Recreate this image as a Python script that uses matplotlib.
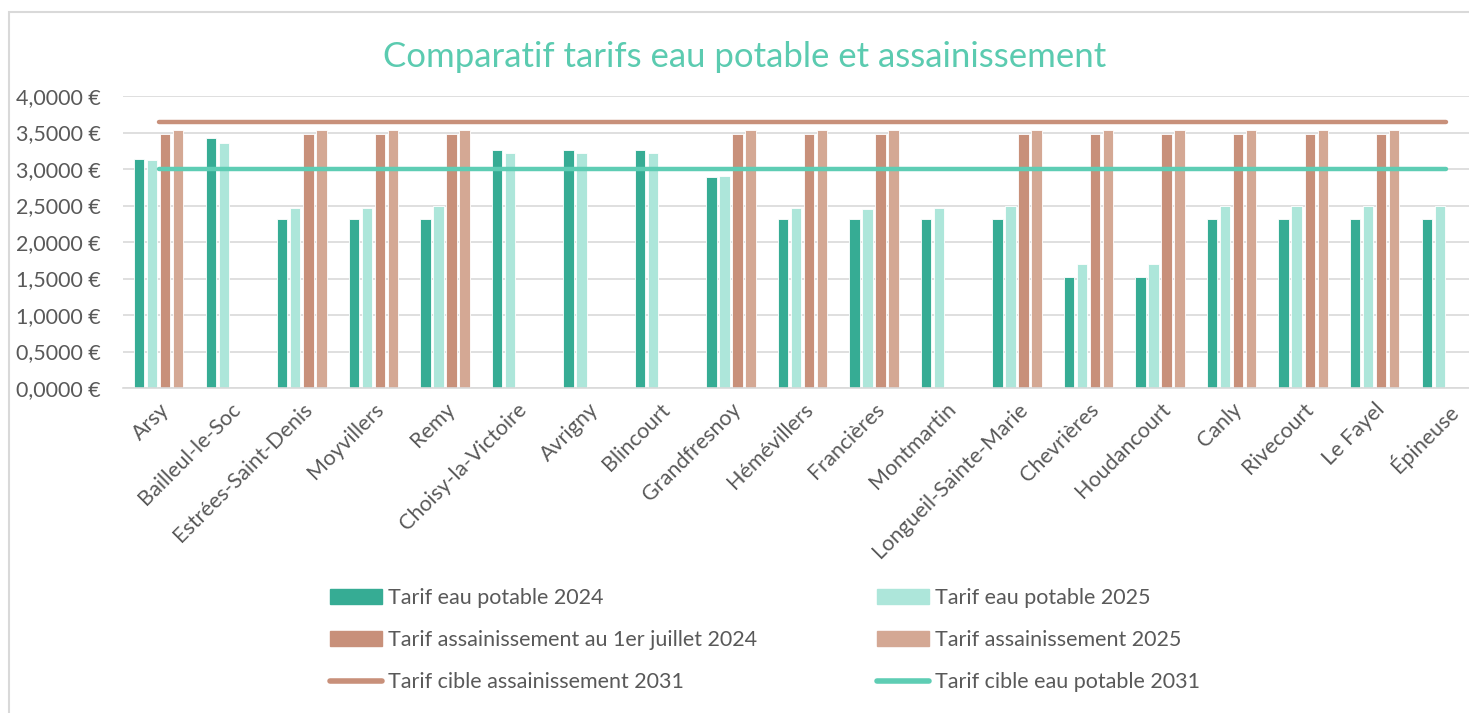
import matplotlib.pyplot as plt
import numpy as np
from matplotlib.patches import Rectangle, Patch
from matplotlib.lines import Line2D

# Data
communes = ["Arsy", "Bailleul-le-Soc", "Estrées-Saint-Denis", "Moyvillers", "Remy",
            "Choisy-la-Victoire", "Avrigny", "Blincourt", "Grandfresnoy", "Hémévillers",
            "Francières", "Montmartin", "Longueil-Sainte-Marie", "Chevrières",
            "Houdancourt", "Canly", "Rivecourt", "Le Fayel", "Épineuse"]
eau_2024 = [3.14, 3.43, 2.31, 2.31, 2.31, 3.26, 3.26, 3.26, 2.885, 2.31,
            2.31, 2.31, 2.31, 1.525, 1.525, 2.31, 2.31, 2.31, 2.31]
eau_2025 = [3.12, 3.35, 2.47, 2.47, 2.50, 3.22, 3.22, 3.22, 2.90, 2.47,
            2.45, 2.47, 2.50, 1.70, 1.70, 2.50, 2.50, 2.50, 2.50]
nan = np.nan
assain_2024 = [3.48, nan, 3.48, 3.48, 3.48, nan, nan, nan, 3.48, 3.48,
               3.48, nan, 3.48, 3.48, 3.48, 3.48, 3.48, 3.48, nan]
assain_2025 = [3.53, nan, 3.53, 3.53, 3.53, nan, nan, nan, 3.53, 3.53,
               3.53, nan, 3.53, 3.53, 3.53, 3.53, 3.53, 3.53, nan]
cible_assain_2031 = [3.65] * len(communes)
cible_eau_2031 = [3.0] * len(communes)

series_labels = ["Tarif eau potable 2024", "Tarif eau potable 2025",
                 "Tarif assainissement au 1er juillet 2024", "Tarif assainissement 2025",
                 "Tarif cible assainissement 2031", "Tarif cible eau potable 2031"]
yticks = [0, 0.5, 1, 1.5, 2, 2.5, 3, 3.5, 4]

# Colours
c_eau24 = "#36AC94"
c_eau25 = "#ADE6DA"
c_ass24 = "#C8907A"
c_ass25 = "#D4A894"
c_line_ass = "#C8907A"
c_line_eau = "#5ECDB4"
c_text = "#595959"
c_grid = "#D9D9D9"

plt.rcParams['font.family'] = ['Lato', 'DejaVu Sans']

W, H = 1469, 713
fig = plt.figure(figsize=(W / 100, H / 100), dpi=100)

# Chart border (cropped on the right and bottom like the screenshot)
fig.patches.append(Rectangle((9 / W, -0.1), 1.2, 1 - 12 / H + 0.1, transform=fig.transFigure,
                             fill=False, edgecolor=c_grid, linewidth=1.5))

# Plot area extends past the right edge of the image
ax = fig.add_axes([123 / W, 1 - 388 / H, 1359 / W, (388 - 96) / H])

x = np.arange(len(communes))
slot = 0.182
bw = 0.145
for i, (vals, col) in enumerate([(eau_2024, c_eau24), (eau_2025, c_eau25),
                                 (assain_2024, c_ass24), (assain_2025, c_ass25)]):
    ax.bar(x + (i - 1.5) * slot, vals, width=bw, color=col,
           edgecolor="white", linewidth=0.6, zorder=2)

ax.plot(x, cible_assain_2031, color=c_line_ass, lw=3.2, solid_capstyle="round", zorder=3)
ax.plot(x, cible_eau_2031, color=c_line_eau, lw=3.2, solid_capstyle="round", zorder=3)

ax.set_xlim(-0.5, len(communes) - 0.5)
ax.set_ylim(0, 4)
ax.set_yticks(yticks)
ax.set_yticklabels([f"{v:.4f} €".replace(".", ",") for v in yticks],
                   fontsize=15.5, color=c_text)
ax.set_xticks(x)
ax.set_xticklabels(communes, rotation=45, ha="right", rotation_mode="anchor",
                   fontsize=15.5, color=c_text)
ax.tick_params(length=0)
ax.tick_params(axis="y", pad=16)
ax.tick_params(axis="x", pad=8)
ax.grid(axis="y", color=c_grid, lw=1.2, zorder=0)
ax.set_axisbelow(True)
for s in ["top", "right", "left"]:
    ax.spines[s].set_visible(False)
ax.spines["bottom"].set_color(c_grid)
ax.spines["bottom"].set_linewidth(1.2)

# Title
fig.text(745 / W, 1 - 57 / H, "Comparatif tarifs eau potable et assainissement",
         ha="center", va="center", fontsize=25, color="#5BCBB0")

# Legend in two columns placed by hand
h_left = [Patch(color=c_eau24), Patch(color=c_ass24),
          Line2D([], [], color=c_line_ass, lw=4, solid_capstyle="round")]
h_right = [Patch(color=c_eau25), Patch(color=c_ass25),
           Line2D([], [], color=c_line_eau, lw=4, solid_capstyle="round")]
leg_kw = dict(frameon=False, fontsize=15.5, labelcolor=c_text, handlelength=2.42,
              handleheight=0.65, handletextpad=0.28, labelspacing=1.02, borderpad=0,
              borderaxespad=0, loc="upper left")
leg1 = fig.legend(h_left, [series_labels[0], series_labels[2], series_labels[4]],
                  bbox_to_anchor=(330 / W, 1 - 588 / H), **leg_kw)
leg2 = fig.legend(h_right, [series_labels[1], series_labels[3], series_labels[5]],
                  bbox_to_anchor=(877 / W, 1 - 588 / H), **leg_kw)

fig.savefig("out.png", dpi=100)
